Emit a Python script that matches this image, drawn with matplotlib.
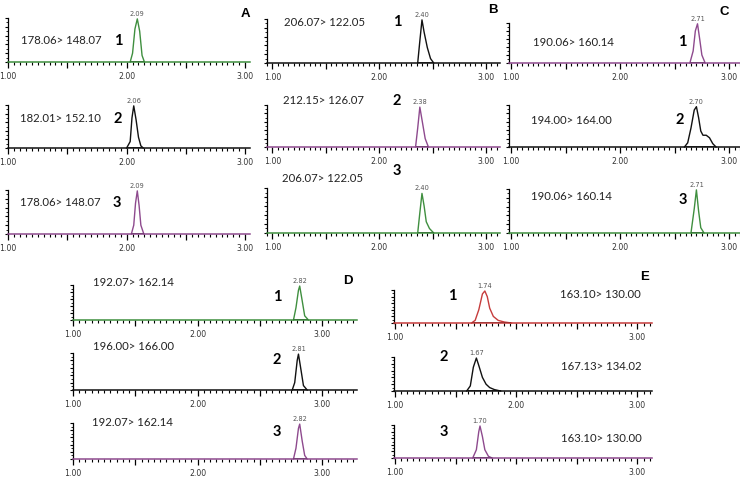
import matplotlib
matplotlib.use('Agg')
import matplotlib.pyplot as plt
from matplotlib.ticker import MultipleLocator, FuncFormatter

# --- data ---
# A
A_mrm = ['178.06> 148.07', '182.01> 152.10', '178.06> 148.07']
A_rt = ['2.09', '2.06', '2.09']
A_t = [[2.03, 2.05, 2.07, 2.09, 2.11, 2.13, 2.15],
       [2.00, 2.03, 2.045, 2.06, 2.08, 2.10, 2.12, 2.14],
       [2.04, 2.06, 2.075, 2.09, 2.105, 2.12, 2.145]]
A_i = [[0, 20, 75, 98, 70, 15, 0],
       [0, 15, 70, 98, 65, 25, 5, 0],
       [0, 20, 70, 98, 65, 20, 0]]
A_ticks = [['1.00', '2.00', '3.00']] * 3

# B
B_mrm = ['206.07> 122.05', '212.15> 126.07', '206.07> 122.05']
B_rt = ['2.40', '2.38', '2.40']
B_t = [[2.36, 2.38, 2.40, 2.42, 2.45, 2.48, 2.51],
       [2.34, 2.36, 2.38, 2.40, 2.43, 2.46],
       [2.36, 2.38, 2.40, 2.42, 2.44, 2.47, 2.51]]
B_i = [[0, 50, 98, 70, 35, 10, 0],
       [0, 45, 95, 65, 20, 0],
       [0, 45, 88, 60, 25, 10, 0]]
B_ticks = [['1.00', '2.00', '3.00']] * 3

# C
C_mrm = ['190.06> 160.14', '194.00> 164.00', '190.06> 160.14']
C_rt = ['2.71', '2.70', '2.71']
C_t = [[2.64, 2.67, 2.69, 2.71, 2.73, 2.75, 2.78],
       [2.59, 2.62, 2.65, 2.68, 2.70, 2.72, 2.74, 2.76, 2.79, 2.82, 2.85, 2.88],
       [2.65, 2.68, 2.70, 2.72, 2.74, 2.77]]
C_i = [[0, 30, 80, 98, 60, 20, 0],
       [0, 10, 45, 88, 96, 70, 38, 28, 28, 22, 8, 0],
       [0, 55, 98, 50, 12, 0]]
C_ticks = [['1.00', '2.00', '3.00']] * 3

# D
D_mrm = ['192.07> 162.14', '196.00> 166.00', '192.07> 162.14']
D_rt = ['2.82', '2.81', '2.82']
D_t = [[2.77, 2.79, 2.81, 2.82, 2.84, 2.86, 2.89],
       [2.76, 2.78, 2.80, 2.81, 2.83, 2.85, 2.88],
       [2.77, 2.79, 2.81, 2.82, 2.84, 2.86, 2.88]]
D_i = [[0, 35, 85, 97, 55, 12, 0],
       [0, 20, 80, 97, 55, 12, 0],
       [0, 30, 85, 97, 50, 10, 0]]
D_ticks = [['1.00', '2.00', '3.00']] * 3

# E
E_mrm = ['163.10> 130.00', '167.13> 134.02', '163.10> 130.00']
E_rt = ['1.74', '1.67', '1.70']
E_t = [[1.63, 1.66, 1.69, 1.72, 1.74, 1.76, 1.78, 1.81, 1.85, 1.90, 1.96],
       [1.59, 1.62, 1.645, 1.67, 1.69, 1.72, 1.75, 1.78, 1.82, 1.87],
       [1.64, 1.67, 1.69, 1.70, 1.72, 1.74, 1.77, 1.80]]
E_i = [[0, 8, 40, 88, 97, 80, 45, 20, 8, 3, 0],
       [0, 15, 70, 97, 75, 40, 20, 10, 4, 0],
       [0, 25, 80, 97, 65, 25, 5, 0]]
E_ticks = [['1.00', '', '3.00'], ['1.00', '2.00', '3.00'], ['1.00', '', '3.00']]

GREEN, PURPLE, BLACK, RED = '#3f8f3f', '#8e4a8e', '#111111', '#c63c3c'

W, H = 740, 480
fig = plt.figure(figsize=(7.4, 4.8), dpi=100)

TXT = ['Lato', 'DejaVu Sans']
NARROW = ['Liberation Sans Narrow', 'DejaVu Sans']


def ptext(x, y, s, **kw):
    fig.text(x / W, 1 - y / H, s, **kw)


def chrom(left, right, top, base, xlim, t, i, color, rt, ticks):
    ax = fig.add_axes([left / W, 1 - base / H, (right - left) / W, (base - top) / H])
    ax.set_xlim(*xlim)
    ax.set_ylim(0, 100)
    for s in ['top', 'right']:
        ax.spines[s].set_visible(False)
    ax.spines['left'].set_linewidth(0.9)
    ax.spines['bottom'].set_linewidth(1.1)
    ax.spines['bottom'].set_color(color)
    ax.patch.set_alpha(0)
    ax.plot(t, i, color=color, lw=1.0, clip_on=False)
    # integration baseline under the peak
    ax.plot([t[0], t[-1]], [0, 0], color='#111111', lw=1.2, solid_capstyle='butt')
    k = i.index(max(i))
    ax.annotate(rt, xy=(t[k], i[k]), xytext=(0, 1.5), textcoords='offset points',
                ha='center', va='bottom', fontsize=4.8, color='#555555',
                family=NARROW, annotation_clip=False)
    ax.xaxis.set_major_locator(MultipleLocator(0.5))
    ax.xaxis.set_minor_locator(MultipleLocator(0.05))
    lab = dict(zip([1.0, 2.0, 3.0], ticks))
    ax.xaxis.set_major_formatter(FuncFormatter(lambda v, p: lab.get(round(v, 2), '')))
    ax.tick_params(axis='x', which='major', length=4, width=0.9, pad=3,
                   labelsize=5.6, labelcolor='#333333')
    ax.tick_params(axis='x', which='minor', length=2.2, width=0.8)
    for tl in ax.get_xticklabels():
        tl.set_family(NARROW)
    ax.yaxis.set_major_locator(MultipleLocator(20))
    ax.yaxis.set_minor_locator(MultipleLocator(10))
    ax.tick_params(axis='y', which='major', length=2.5, width=0.8, labelleft=False)
    ax.tick_params(axis='y', which='minor', length=1.5, width=0.6)
    return ax


def mrm(x, y, s):
    ptext(x, y, s, fontsize=8.2, family=TXT, va='center', ha='left', color='#222222')


def num(x, y, s):
    ptext(x, y, s, fontsize=10.5, family=TXT, fontweight='bold', va='center', ha='center')


def letter(x, y, s):
    ptext(x, y, s, fontsize=9.5, family=['Liberation Sans', 'DejaVu Sans'],
          fontweight='bold', va='center', ha='center')


# panel A
rowsA = [(18, 62), (105, 148), (190, 234)]
colsA = [GREEN, BLACK, PURPLE]
for r in range(3):
    chrom(8, 250, rowsA[r][0], rowsA[r][1], (1.0, 3.04), A_t[r], A_i[r], colsA[r], A_rt[r], A_ticks[r])
mrm(21, 41, A_mrm[0]); num(118, 41, '1')
mrm(20, 119, A_mrm[1]); num(118, 119, '2')
mrm(20, 203, A_mrm[2]); num(117, 203, '3')
letter(245, 14, 'A')

# panel B
rowsB = [(19, 63), (105, 147), (188, 233)]
colsB = [BLACK, PURPLE, GREEN]
for r in range(3):
    chrom(267, 500, rowsB[r][0], rowsB[r][1], (0.95, 3.13), B_t[r], B_i[r], colsB[r], B_rt[r], B_ticks[r])
mrm(284, 23, B_mrm[0]); num(397, 22, '1')
mrm(283, 101, B_mrm[1]); num(397, 101, '2')
mrm(282, 178, B_mrm[2]); num(397, 171, '3')
letter(493, 10, 'B')

# panel C
rowsC = [(23, 63), (105, 147), (189, 233)]
colsC = [PURPLE, BLACK, GREEN]
for r in range(3):
    chrom(509, 740, rowsC[r][0], rowsC[r][1], (0.98, 3.10), C_t[r], C_i[r], colsC[r], C_rt[r], C_ticks[r])
mrm(533, 42, C_mrm[0]); num(682, 42, '1')
mrm(531, 120, C_mrm[1]); num(680, 120, '2')
mrm(531, 197, C_mrm[2]); num(683, 200, '3')
letter(724, 12, 'C')

# panel D
rowsD = [(285, 320), (353, 390), (423, 459)]
colsD = [GREEN, BLACK, PURPLE]
for r in range(3):
    chrom(73, 357, rowsD[r][0], rowsD[r][1], (1.0, 3.28), D_t[r], D_i[r], colsD[r], D_rt[r], D_ticks[r])
mrm(93, 283, D_mrm[0]); num(277, 297, '1')
mrm(93, 347, D_mrm[1]); num(277, 360, '2')
mrm(92, 422, D_mrm[2]); num(277, 432, '3')
letter(348, 281, 'D')

# panel E
rowsE = [(290, 323), (357, 391), (425, 458)]
colsE = [RED, BLACK, PURPLE]
for r in range(3):
    chrom(394, 652, rowsE[r][0], rowsE[r][1], (0.99, 3.12), E_t[r], E_i[r], colsE[r], E_rt[r], E_ticks[r])
mrm(560, 295, E_mrm[0]); num(452, 296, '1')
mrm(561, 366, E_mrm[1]); num(444, 357, '2')
mrm(561, 438, E_mrm[2]); num(444, 432, '3')
letter(645, 277, 'E')

fig.savefig('out.png', dpi=100)
